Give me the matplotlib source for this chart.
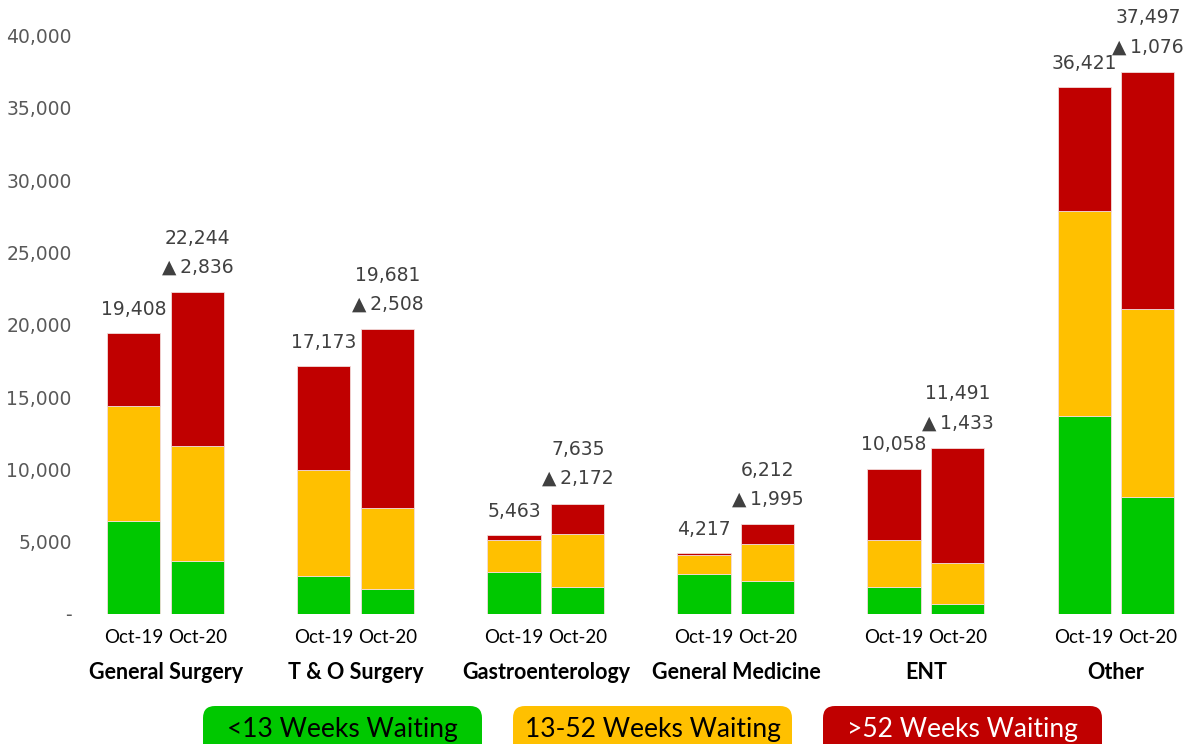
import numpy as np
import matplotlib.pyplot as plt
from matplotlib import font_manager
from matplotlib.patches import FancyBboxPatch
from matplotlib.ticker import FuncFormatter

# waiting list by specialty, Oct-19 vs Oct-20
specialties = ['General Surgery', 'T & O Surgery', 'Gastroenterology',
               'General Medicine', 'ENT', 'Other']
periods = ['Oct-19', 'Oct-20']

under13_19 = [6430, 2630, 2900, 2770, 1870, 13700]
w13to52_19 = [7980, 7330, 2220, 1310, 3250, 14140]
over52_19 = [4998, 7213, 343, 137, 4938, 8581]

under13_20 = [3640, 1730, 1870, 2300, 690, 8080]
w13to52_20 = [7960, 5600, 3680, 2520, 2810, 12990]
over52_20 = [10644, 12351, 2085, 1392, 7991, 16427]

legend_labels = ['<13 Weeks Waiting', '13-52 Weeks Waiting', '>52 Weeks Waiting']
colors = ['#00C800', '#FFC000', '#C00000']
legend_text_colors = ['black', 'black', 'white']


def main():
	names = {f.name for f in font_manager.fontManager.ttflist}
	if 'Liberation Sans Narrow' in names:
		tick_font, tick_size = 'Liberation Sans Narrow', 15
	else:
		tick_font, tick_size = 'Lato', 13.5

	fig = plt.figure(figsize=(12.02, 7.44), dpi=100)
	ax = fig.add_axes([73/1202, 130/744, 1129/1202, 578.4/744])

	x = np.arange(len(specialties))
	off = 0.168
	w = 0.279

	series19 = [under13_19, w13to52_19, over52_19]
	series20 = [under13_20, w13to52_20, over52_20]

	for xs, series in ((x - off, series19), (x + off, series20)):
		bottom = np.zeros(len(x))
		for vals, c in zip(series, colors):
			ax.bar(xs, vals, w, bottom=bottom, color=c, edgecolor='#f2dcdb', linewidth=0.6)
			bottom = bottom + np.array(vals)

	tot19 = np.sum(series19, axis=0)
	tot20 = np.sum(series20, axis=0)
	diff = tot20 - tot19

	lab_col = '#404040'
	for i in range(len(x)):
		ax.annotate(f'{tot19[i]:,}', (x[i] - off, tot19[i]), xytext=(0, 17),
					textcoords='offset points', ha='center', va='center',
					fontsize=13.5, color=lab_col)
		ax.annotate(f'\u25B2\u2009{diff[i]:,}', (x[i] + off, tot20[i]), xytext=(0, 18),
					textcoords='offset points', ha='center', va='center',
					fontsize=13.5, color=lab_col)
		ax.annotate(f'{tot20[i]:,}', (x[i] + off, tot20[i]), xytext=(0, 39),
					textcoords='offset points', ha='center', va='center',
					fontsize=13.5, color=lab_col)

	# x labels
	ax.set_xticks(np.concatenate([x - off, x + off]))
	ax.set_xticklabels([periods[0]] * len(x) + [periods[1]] * len(x),
					   fontfamily=tick_font, fontsize=tick_size)
	ax.tick_params(axis='x', length=0, pad=11)
	trans = ax.get_xaxis_transform()
	for i, name in enumerate(specialties):
		ax.annotate(name, (x[i], 0), xycoords=trans, xytext=(0, -42),
					textcoords='offset points', ha='center', va='center',
					fontfamily='Lato', fontweight='bold', fontsize=15.5)

	# y axis
	ax.set_ylim(0, 40000)
	ax.set_xlim(-0.489, 5.453)
	ax.set_yticks(np.arange(0, 40001, 5000))
	ax.yaxis.set_major_formatter(FuncFormatter(lambda v, p: '-' if v == 0 else f'{int(v):,}'))
	ax.tick_params(axis='y', length=0, pad=1, labelsize=13.5, labelcolor='#595959')
	for s in ax.spines.values():
		s.set_visible(False)

	# legend boxes (pixel layout in inches)
	box_x = [2.03, 5.13, 8.23]
	for bx, lab, c, tc in zip(box_x, legend_labels, colors, legend_text_colors):
		box = FancyBboxPatch((bx, -0.2), 2.79, 0.58, boxstyle='round,pad=0,rounding_size=0.12',
							 transform=fig.dpi_scale_trans, facecolor=c, edgecolor='none')
		fig.patches.append(box)
		fig.text(bx + 2.79/2, 0.15, lab, transform=fig.dpi_scale_trans, ha='center', va='center',
				 fontfamily='Lato', fontsize=19, color=tc)

	fig.savefig('out.png', dpi=100)


if __name__ == '__main__':
	main()
